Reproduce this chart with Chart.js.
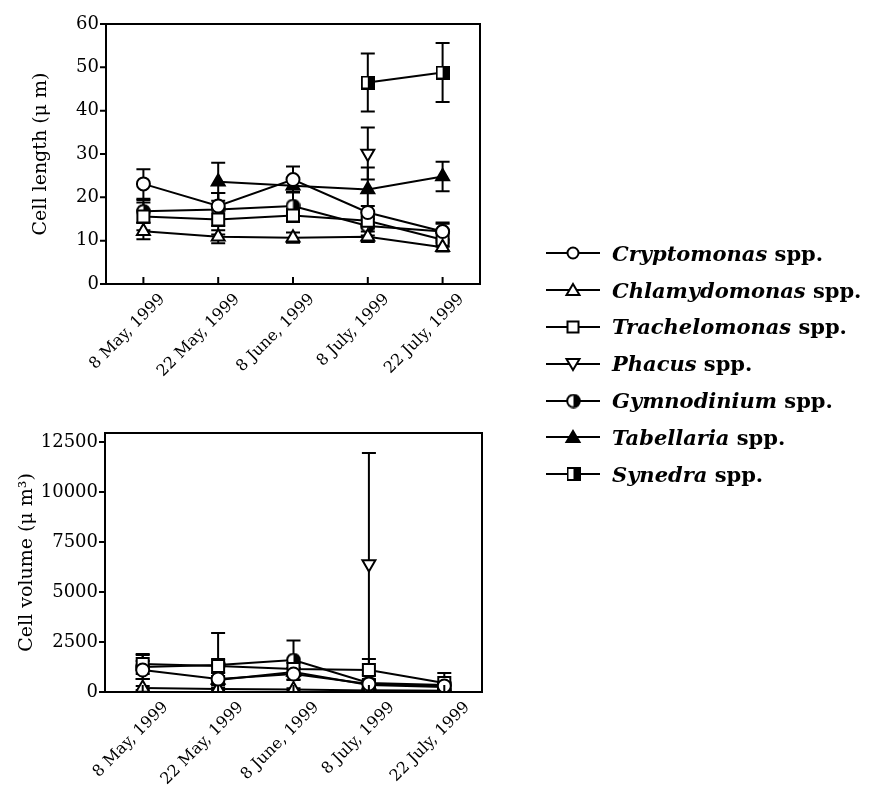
<!DOCTYPE html>
<html><head><meta charset="utf-8">
<script src="https://cdn.jsdelivr.net/npm/chart.js@4.4.1/dist/chart.umd.min.js"></script>
<style>
html,body{margin:0;padding:0;background:#fff;width:885px;height:785px;overflow:hidden;position:relative;}
#c1{position:absolute;left:0;top:0;}
#c2{position:absolute;left:0;top:400px;}
#legend{position:absolute;left:544px;top:235px;font-family:"DejaVu Serif",serif;font-weight:bold;font-size:21px;color:#000;}
.row{height:36.8px;display:flex;align-items:center;white-space:nowrap;}
.row canvas{margin-right:10px;}
.row i{font-style:italic;}
</style></head>
<body>
<canvas id="c1" width="500" height="400"></canvas>
<canvas id="c2" width="500" height="385"></canvas>
<div id="legend"></div>
<script>
// ---- data ----
const dates = ["8 May, 1999", "22 May, 1999", "8 June, 1999", "8 July, 1999", "22 July, 1999"];
const seriesNames = ["Cryptomonas", "Chlamydomonas", "Trachelomonas", "Phacus", "Gymnodinium", "Tabellaria", "Synedra"];

// Cell length (µm), mean and error
const cryptoLen    = [23.1, 18.0, 24.1, 16.5, 12.1];
const cryptoLenErr = [3.4, 3.0, 3.0, 1.5, 1.8];
const chlamyLen    = [12.2, 10.9, 10.7, 10.9, 8.5];
const chlamyLenErr = [1.9, 1.5, 1.2, 1.2, 1.0];
const trachLen     = [15.6, 14.9, 15.8, 14.6, 10.2];
const trachLenErr  = [3.2, 3.5, 1.5, 1.8, 1.6];
const phacusLen    = [null, null, null, 30.1, null];
const phacusLenErr = [null, null, null, 6.0, null];
const gymnoLen     = [16.8, 17.2, 18.0, 13.4, 12.1];
const gymnoLenErr  = [2.6, 3.8, 3.3, 2.2, 2.1];
const tabellLen    = [null, 23.6, 22.7, 21.8, 24.8];
const tabellLenErr = [null, 4.4, 0, 5.1, 3.4];
const synedraLen   = [null, null, null, 46.5, 48.8];
const synedraLenErr= [null, null, null, 6.7, 6.8];

// Cell volume (µm³), mean and error
const cryptoVol    = [1100, 650, 900, 400, 300];
const cryptoVolErr = [450, 300, 300, 200, 150];
const chlamyVol    = [200, 150, 130, 80, 50];
const chlamyVolErr = [100, 80, 60, 50, 40];
const trachVol     = [1400, 1300, 1150, 1100, 450];
const trachVolErr  = [500, 350, 300, 550, 500];
const phacusVol    = [null, null, null, 6400, null];
const phacusVolErr = [null, null, null, 5550, null];
const gymnoVol     = [1250, 1350, 1600, 450, 350];
const gymnoVolErr  = [600, 1600, 980, 200, 150];
const tabellVol    = [null, 600, 1000, 350, 250];
const tabellVolErr = [null, 200, 200, 150, 100];
const synedraVol   = [null, null, null, 80, 60];
const synedraVolErr= [null, null, null, 60, 50];

const lengthTicks = [0, 10, 20, 30, 40, 50, 60];
const volumeTicks = [0, 2500, 5000, 7500, 10000, 12500];

// ---- marker images ----
function halfCircle(size){
  const c=document.createElement('canvas');c.width=size;c.height=size;
  const g=c.getContext('2d');const r=size/2-1.2;const cx=size/2,cy=size/2;
  g.fillStyle='#fff';g.beginPath();g.arc(cx,cy,r,0,Math.PI*2);g.fill();
  g.fillStyle='#000';g.beginPath();g.moveTo(cx,cy-r);g.arc(cx,cy,r,-Math.PI/2,Math.PI/2);g.closePath();g.fill();
  g.strokeStyle='#000';g.lineWidth=2;g.beginPath();g.arc(cx,cy,r,0,Math.PI*2);g.stroke();
  return c;
}
function halfSquare(size){
  const c=document.createElement('canvas');c.width=size;c.height=size;
  const g=c.getContext('2d');const s=size-2;
  g.fillStyle='#fff';g.fillRect(1,1,s,s);
  g.fillStyle='#000';g.fillRect(size/2,1,s/2,s);
  g.strokeStyle='#000';g.lineWidth=2;g.strokeRect(1,1,s,s);
  return c;
}
const gymImg = halfCircle(15);
const synImg = halfSquare(14);

const styles = [
  {pointStyle:'circle', r:6.5, bg:'#fff', rot:0},
  {pointStyle:'triangle', r:7.5, bg:'#fff', rot:0},
  {pointStyle:'rect', r:8.5, bg:'#fff', rot:0},
  {pointStyle:'triangle', r:7.5, bg:'#fff', rot:180},
  {pointStyle:gymImg, r:7, bg:'#000', rot:0},
  {pointStyle:'triangle', r:7.5, bg:'#000', rot:0},
  {pointStyle:synImg, r:7, bg:'#000', rot:0}
];

function makeDatasets(vals, errs){
  return vals.map((v,i)=>({
    label: seriesNames[i],
    data: v,
    errors: errs[i],
    borderColor:'#000',
    borderWidth:2,
    backgroundColor:styles[i].bg,
    pointStyle:styles[i].pointStyle,
    pointRadius:styles[i].r,
    pointRotation:styles[i].rot,
    pointBorderWidth:2,
    pointBorderColor:'#000',
    pointBackgroundColor:styles[i].bg,
    spanGaps:false,
    tension:0
  }));
}

const frameAndBars = {
  id:'frameAndBars',
  beforeDatasetsDraw(chart){
    const ctx=chart.ctx; const ys=chart.scales.y; const xs=chart.scales.x;
    ctx.save(); ctx.strokeStyle='#000'; ctx.lineWidth=2;
    chart.data.datasets.forEach((ds,di)=>{
      ds.data.forEach((v,i)=>{
        const e = ds.errors ? ds.errors[i] : null;
        if(v==null || !e) return;
        const x=xs.getPixelForValue(i);
        const y1=ys.getPixelForValue(v+e), y2=ys.getPixelForValue(Math.max(v-e, ys.min));
        ctx.beginPath();ctx.moveTo(x,y1);ctx.lineTo(x,y2);
        ctx.moveTo(x-7,y1);ctx.lineTo(x+7,y1);
        if(v-e>ys.min){ctx.moveTo(x-7,y2);ctx.lineTo(x+7,y2);}
        ctx.stroke();
      });
    });
    ctx.restore();
  },
  afterDraw(chart){
    const ctx=chart.ctx; const a=chart.chartArea; const ys=chart.scales.y; const xs=chart.scales.x;
    ctx.save(); ctx.strokeStyle='#000'; ctx.lineWidth=2;
    ctx.strokeRect(a.left,a.top,a.right-a.left,a.bottom-a.top);
    ctx.beginPath();
    ys.ticks.forEach(t=>{const y=ys.getPixelForValue(t.value);ctx.moveTo(a.left-6,y);ctx.lineTo(a.left,y);});
    xs.ticks.forEach((t,i)=>{const x=xs.getPixelForTick(i);ctx.moveTo(x,a.bottom);ctx.lineTo(x,a.bottom-7);});
    ctx.stroke(); ctx.restore();
  }
};

function makeChart(id, vals, errs, yMax, tickVals, yTitle, titlePad, pad, xH, labelOffset){
  return new Chart(document.getElementById(id), {
    type:'line',
    data:{labels:dates, datasets:makeDatasets(vals, errs)},
    options:{
      responsive:false, animation:false,
      layout:{padding:pad},
      plugins:{legend:{display:false}, tooltip:{enabled:false}},
      scales:{
        x:{
          type:'category', offset:true,
          grid:{display:false, drawTicks:false},
          border:{display:false},
          ticks:{color:'#000', font:{family:'DejaVu Serif', size:16}, minRotation:45, maxRotation:45, padding:6, labelOffset:labelOffset, autoSkip:false},
          afterFit(s){s.height=xH;}
        },
        y:{
          min:0, max:yMax,
          grid:{display:false, drawTicks:false},
          border:{display:false},
          afterBuildTicks(s){s.ticks=tickVals.map(v=>({value:v}));},
          ticks:{color:'#000', font:{family:'DejaVu Serif', size:18}, padding:7, callback:(v)=>String(v)},
          title:{display:true, text:yTitle, color:'#000', font:{family:'DejaVu Serif', size:19}, padding:{top:titlePad, bottom:0}},
          afterFit(s){s.width=pad.yw;}
        }
      }
    },
    plugins:[frameAndBars]
  });
}

makeChart('c1',
  [cryptoLen, chlamyLen, trachLen, phacusLen, gymnoLen, tabellLen, synedraLen],
  [cryptoLenErr, chlamyLenErr, trachLenErr, phacusLenErr, gymnoLenErr, tabellLenErr, synedraLenErr],
  60, lengthTicks, 'Cell length (\u03bc m)', 30, {top:24, right:20, left:0, bottom:0, yw:106}, 116, 19);

makeChart('c2',
  [cryptoVol, chlamyVol, trachVol, phacusVol, gymnoVol, tabellVol, synedraVol],
  [cryptoVolErr, chlamyVolErr, trachVolErr, phacusVolErr, gymnoVolErr, tabellVolErr, synedraVolErr],
  12950, volumeTicks, 'Cell volume (\u03bc m\u00b3)', 16, {top:33, right:18, left:0, bottom:0, yw:105}, 93, 23);

// ---- legend ----
const leg=document.getElementById('legend');
seriesNames.forEach((n,i)=>{
  const row=document.createElement('div');row.className='row';
  const c=document.createElement('canvas');c.width=58;c.height=20;
  const g=c.getContext('2d');
  g.strokeStyle='#000';g.lineWidth=2;g.beginPath();g.moveTo(2,10);g.lineTo(56,10);g.stroke();
  const st=styles[i];const x=29,y=10;
  g.fillStyle=st.bg;g.lineWidth=2;
  if(st.pointStyle==='circle'){g.fillStyle='#fff';g.beginPath();g.arc(x,y,5.5,0,Math.PI*2);g.fill();g.stroke();}
  else if(st.pointStyle==='rect'){g.fillStyle='#fff';g.fillRect(x-5.5,y-5.5,11,11);g.strokeRect(x-5.5,y-5.5,11,11);}
  else if(st.pointStyle==='triangle'){
    const s=st.rot?-1:1;g.beginPath();g.moveTo(x,y-6*s);g.lineTo(x+6.5,y+5*s);g.lineTo(x-6.5,y+5*s);g.closePath();g.fill();g.stroke();}
  else {g.drawImage(st.pointStyle,x-st.pointStyle.width/2+0.5,y-st.pointStyle.height/2);}
  row.appendChild(c);
  const t=document.createElement('span');t.innerHTML='<i>'+n+'</i> spp.';
  row.appendChild(t);leg.appendChild(row);
});
</script>
</body></html>
